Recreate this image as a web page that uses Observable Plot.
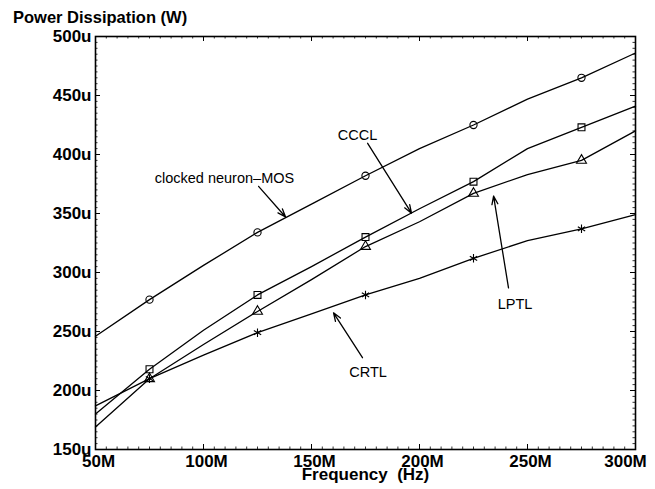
<!DOCTYPE html>
<html>
<head>
<meta charset="utf-8">
<script src="https://cdn.jsdelivr.net/npm/d3@7"></script>
<script src="https://cdn.jsdelivr.net/npm/@observablehq/plot@0.6"></script>
<style>
  html, body { margin: 0; padding: 0; background: #fff; }
  #wrap { position: relative; width: 655px; height: 489px; font-family: "Liberation Sans", Arial, Helvetica, sans-serif; }
  #title { position: absolute; left: 13px; top: 9px; font-size: 16.5px; font-weight: bold; line-height: 1; color: #000; }
  #chart svg { display: block; }
</style>
</head>
<body>
<div id="wrap">
  <div id="chart"></div>
  <div id="title">Power Dissipation (W)</div>
</div>
<script>
// Frequencies (MHz) at which the curves are sampled
const freqs = [50, 75, 100, 125, 150, 175, 200, 225, 250, 275, 300];
// Power dissipation (µW)
const neuronMOS = [246, 277, 306, 334, 358, 382, 405, 425, 447, 465, 486];
const cccl      = [180, 218, 251, 281, 305, 330, 354, 377, 405, 423, 441];
const lptl      = [169, 210, 239, 267, 294, 322, 343, 367, 383, 395, 420];
const crtl      = [187, 210, 230, 249, 265, 281, 295, 312, 327, 337, 349];
// Frequencies where markers are drawn
const markerFreqs = [75, 125, 175, 225, 275];
// Axis ticks
const xTicks = [50, 100, 150, 200, 250, 300];
const yTicks = [150, 200, 250, 300, 350, 400, 450, 500];
const xMinor = d3.range(50, 301, 5);
const yMinor = d3.range(150, 501, 5);

const seriesDefs = [
  {name: "clocked neuron–MOS", values: neuronMOS, symbol: "circle", r: 3.6},
  {name: "CCCL", values: cccl, symbol: "square", r: 3.9},
  {name: "LPTL", values: lptl, symbol: "triangle", r: 3.7},
  {name: "CRTL", values: crtl, symbol: "asterisk", r: 4}
];

const rows = seriesDefs.flatMap(s => freqs.map((f, i) => ({series: s.name, f, p: s.values[i]})));

// Annotations (data units)
const annotations = [
  {label: "clocked neuron–MOS", tx: 109.7, ty: 380, x1: 125.5, y1: 373, x2: 138, y2: 347},
  {label: "CCCL", tx: 171.3, ty: 416, x1: 176, y1: 409.5, x2: 196.3, y2: 350.3},
  {label: "LPTL", tx: 244.2, ty: 273.4, x1: 241.2, y1: 287, x2: 234.3, y2: 364.7},
  {label: "CRTL", tx: 176.2, ty: 215, x1: 173.6, y1: 227.8, x2: 160.2, y2: 265.8}
];

const W = 655, H = 489;
const mL = 95, mR = 20, mT = 36, mB = 40;
const fw = W - mL - mR, fh = H - mT - mB;
const majLen = 5, minLen = 2.5;

const marks = [
  // minor & major inward ticks on all four sides
  Plot.ruleX(xMinor, {x: d => d, insetTop: fh - minLen, stroke: "black", strokeWidth: 0.8}),
  Plot.ruleX(xMinor, {x: d => d, insetBottom: fh - minLen, stroke: "black", strokeWidth: 0.8}),
  Plot.ruleX(xTicks, {x: d => d, insetTop: fh - majLen, stroke: "black", strokeWidth: 1}),
  Plot.ruleX(xTicks, {x: d => d, insetBottom: fh - majLen, stroke: "black", strokeWidth: 1}),
  Plot.ruleY(yMinor, {y: d => d, insetRight: fw - minLen, stroke: "black", strokeWidth: 0.8}),
  Plot.ruleY(yMinor, {y: d => d, insetLeft: fw - minLen, stroke: "black", strokeWidth: 0.8}),
  Plot.ruleY(yTicks, {y: d => d, insetRight: fw - majLen, stroke: "black", strokeWidth: 1}),
  Plot.ruleY(yTicks, {y: d => d, insetLeft: fw - majLen, stroke: "black", strokeWidth: 1}),
  Plot.axisX(xTicks.filter(d => d < 300), {tickSize: 0, tickPadding: 5, dx: 3, fontSize: 17, fontWeight: "bold", tickFormat: d => d + "M", label: null}),
  Plot.axisX(xTicks.filter(d => d === 300), {tickSize: 0, tickPadding: 5, dx: -10, fontSize: 17, fontWeight: "bold", tickFormat: d => d + "M", label: null}),
  Plot.axisY(yTicks, {tickSize: 0, tickPadding: 4, fontSize: 17, fontWeight: "bold", tickFormat: d => d + "u", label: null}),
  Plot.text(["Frequency \u00a0(Hz)"], {frameAnchor: "bottom", dy: 30, fontSize: 17, fontWeight: "bold", fill: "black"}),
  Plot.line(rows, {x: "f", y: "p", z: "series", stroke: "black", strokeWidth: 1.3}),
  ...seriesDefs.map(s => Plot.dot(
    freqs.map((f, i) => ({f, p: s.values[i]})).filter(d => markerFreqs.includes(d.f)),
    {x: "f", y: "p", symbol: s.symbol, r: s.r, stroke: "black", fill: "none", strokeWidth: 1.1}
  )),
  Plot.arrow(annotations, {x1: "x1", y1: "y1", x2: "x2", y2: "y2", headLength: 10, headAngle: 40, strokeWidth: 1.3, stroke: "black", insetStart: 0, insetEnd: 0}),
  Plot.text(annotations, {x: "tx", y: "ty", text: "label", fontSize: 14.5, fill: "black"}),
  Plot.frame({stroke: "black", strokeWidth: 1.6})
];

const chart = Plot.plot({
  width: W,
  height: H,
  marginLeft: mL,
  marginRight: mR,
  marginTop: mT,
  marginBottom: mB,
  x: {type: "linear", domain: [50, 300]},
  y: {type: "linear", domain: [150, 500]},
  style: {fontFamily: "'Liberation Sans', Arial, Helvetica, sans-serif", background: "white", color: "black", overflow: "visible"},
  marks
});
document.getElementById("chart").appendChild(chart);
</script>
</body>
</html>
